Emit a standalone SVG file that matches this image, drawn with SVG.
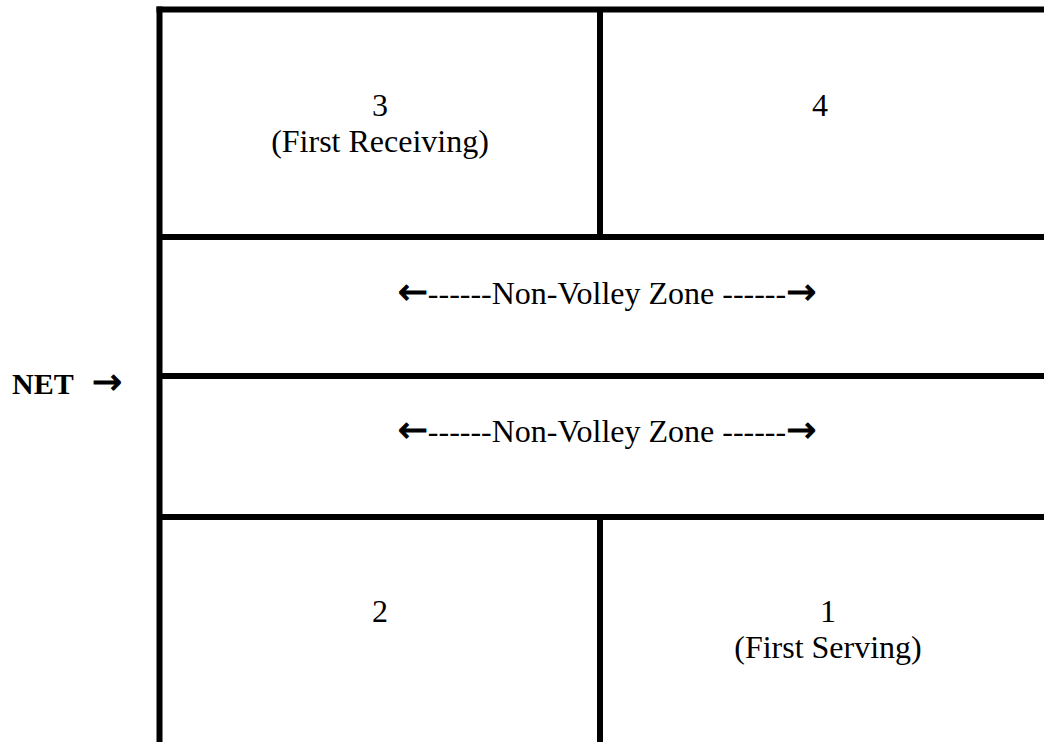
<svg xmlns="http://www.w3.org/2000/svg" width="1044" height="742" viewBox="0 0 1044 742">
<style>
.ln{stroke:#000;stroke-width:6;fill:none}
.t{font-family:"Liberation Serif","Times New Roman",serif;font-size:32px;fill:#000;text-anchor:middle}
.b{font-weight:bold;text-anchor:start;font-size:30px}
.ar{font-family:"DejaVu Sans",sans-serif;font-weight:normal;font-size:36px;stroke:#000;stroke-width:0.9}
</style>
<rect width="1044" height="742" fill="#fff"/>
<g id="court-lines">
<line class="ln" x1="159.5" y1="6.5" x2="159.5" y2="742"/>
<line class="ln" x1="156.5" y1="9.5" x2="1044" y2="9.5"/>
<line class="ln" x1="600" y1="9.5" x2="600" y2="237"/>
<line class="ln" x1="159.5" y1="237" x2="1044" y2="237"/>
<line class="ln" x1="159.5" y1="376" x2="1044" y2="376"/>
<line class="ln" x1="159.5" y1="517" x2="1044" y2="517"/>
<line class="ln" x1="600" y1="517" x2="600" y2="742"/>
</g>
<g id="box3"><text class="t" x="380" y="116">3</text><text class="t" x="380" y="152">(First Receiving)</text></g>
<g id="box4"><text class="t" x="820" y="116">4</text></g>
<g id="nvz-top"><text class="t" x="607" y="304"><tspan class="ar">←</tspan>------Non-Volley Zone ------<tspan class="ar">→</tspan></text></g>
<g id="nvz-bottom"><text class="t" x="607" y="442"><tspan class="ar">←</tspan>------Non-Volley Zone ------<tspan class="ar">→</tspan></text></g>
<g id="box2"><text class="t" x="380" y="622">2</text></g>
<g id="box1"><text class="t" x="828" y="622">1</text><text class="t" x="828" y="658">(First Serving)</text></g>
<g id="net"><text class="t b" x="12" y="394">NET<tspan class="ar" x="92">→</tspan></text></g>
</svg>
